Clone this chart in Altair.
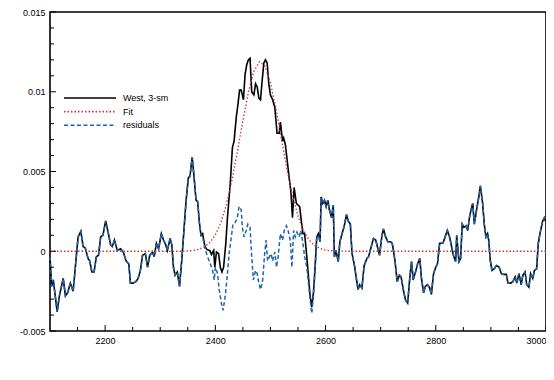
import altair as alt
import pandas as pd

# ---- data (values in units of 1e-3) ----
west_x = [2100, 2103, 2106, 2113, 2117, 2124, 2128, 2132, 2137, 2142, 2147, 2151, 2156, 2160, 2164, 2169, 2172, 2176, 2180, 2184,
          2188, 2192, 2196, 2201, 2206, 2210, 2213, 2217, 2222, 2228, 2233, 2238, 2243, 2246, 2251, 2256, 2260, 2264, 2268, 2273,
          2277, 2281, 2286, 2289, 2293, 2297, 2302, 2306, 2310, 2313, 2318, 2321, 2324, 2327, 2331, 2335, 2339, 2343, 2347, 2351,
          2354, 2358, 2361, 2365, 2368, 2371, 2374, 2377, 2381, 2385, 2390, 2393, 2397, 2399, 2402, 2406, 2409, 2412, 2415, 2419,
          2422, 2427, 2431, 2434, 2438, 2441, 2444, 2447, 2451, 2454, 2457, 2460, 2463, 2466, 2470, 2473, 2476, 2479, 2482, 2485,
          2488, 2491, 2494, 2497, 2500, 2504, 2508, 2512, 2516, 2518, 2522, 2524, 2527, 2531, 2534, 2537, 2540, 2543, 2547, 2550,
          2553, 2556, 2559, 2562, 2566, 2569, 2572, 2575, 2578, 2581, 2584, 2587, 2590, 2592, 2595, 2598, 2601, 2604, 2607, 2611,
          2614, 2616, 2619, 2623, 2626, 2630, 2634, 2638, 2641, 2645, 2648, 2652, 2655, 2659, 2662, 2666, 2670, 2675, 2678, 2683,
          2687, 2691, 2694, 2698, 2702, 2705, 2709, 2713, 2718, 2721, 2726, 2730, 2734, 2737, 2741, 2745, 2749, 2753, 2756, 2759,
          2764, 2767, 2771, 2774, 2778, 2781, 2785, 2789, 2792, 2796, 2800, 2803, 2807, 2810, 2813, 2816, 2821, 2825, 2828, 2832,
          2836, 2838, 2842, 2845, 2848, 2851, 2855, 2858, 2861, 2864, 2867, 2870, 2874, 2878, 2881, 2885, 2888, 2891, 2894, 2896,
          2899, 2902, 2906, 2910, 2915, 2919, 2923, 2928, 2931, 2936, 2940, 2944, 2947, 2951, 2955, 2958, 2962, 2965, 2969, 2972,
          2976, 2979, 2983, 2986, 2989, 2994, 2997, 3000]
west_y = [-0.35, -2.2, -1.8, -3.8, -2.8, -1.7, -2.8, -2.6, -2.0, -2.5, -0.6, 0.9, 1.25, 0.3, 0.2, -0.45, -0.6, -1.3, -1.3, -0.35,
          -0.25, 0.9, 1.0, 1.9, 1.1, 0.4, 0.3, 0.7, 0.05, 0.15, -0.05, -0.6, -0.8, -2.0, -2.0, -1.9, -1.7, -1.2, -0.25, -0.15,
          -1.0, -0.25, -0.05, -0.35, 0.5, 0.15, 1.1, 0.7, 0.4, 0.05, 0.8, 0.4, -1.0, -1.5, -1.3, -2.2, -0.6, 1.3, 3.2, 4.6,
          4.7, 5.9, 4.8, 3.2, 3.1, 1.8, 1.0, 1.1, 0.3, 0.1, 0.05, -0.2, 0.05, -1.0, -0.05, -0.15, -1.0, -1.3, -1.0, 0.5,
          2.1, 4.2, 6.5, 6.9, 8.4, 9.2, 10.1, 10.1, 9.5, 11.1, 11.7, 12.0, 12.1, 10.0, 9.8, 10.5, 10.3, 9.6, 9.5, 10.7,
          11.8, 12.0, 11.8, 10.5, 9.8, 9.5, 9.0, 7.4, 7.4, 8.1, 6.9, 7.1, 6.7, 5.5, 4.6, 3.8, 2.1, 4.0, 3.0, 2.9,
          2.8, 1.9, 1.1, 1.1, -0.35, -1.6, -2.8, -3.5, -2.6, -1.0, 0.9, 1.1, 0.6, 3.4, 3.0, 3.2, 2.8, 3.2, 2.6, 2.1,
          2.9, -0.35, 0.05, -0.65, 0.6, 1.1, 1.6, 2.3, 1.9, 1.7, -0.15, -0.8, -1.5, -2.4, -2.1, -2.3, -0.9, -0.45, -0.35, 0.3,
          0.8, 0.7, 0.3, -0.25, 0.9, 1.4, 0.9, 0.6, 0.6, 0.5, -0.6, -1.9, -1.5, -1.6, -2.4, -3.05, -3.25, -1.6, -0.65, -1.8,
          -1.2, -0.8, -0.45, -1.7, -2.6, -2.2, -2.1, -2.3, -2.7, -1.4, -1.0, -0.8, 0.5, 0.5, 0.5, 0.8, 1.3, 0.9, 0.4, -0.25,
          -0.65, 1.0, -0.65, -0.45, 1.7, 1.5, 1.6, 1.3, 2.1, 2.6, 3.0, 1.7, 2.6, 3.4, 4.1, 3.0, 1.7, 0.9, 1.1, 0.7,
          -0.6, -1.2, -1.1, -0.9, -1.0, -1.4, -1.45, -1.45, -2.0, -2.0, -1.9, -1.6, -2.0, -1.4, -2.1, -1.5, -1.3, -2.1, -2.25, -1.4,
          -1.7, -1.2, -1.1, 0.5, 1.1, 1.9, 2.1, 1.8]

# residuals where they differ from the data (peak region)
res_x = [2377, 2382, 2386, 2391, 2395, 2398, 2400, 2404, 2407, 2411, 2414, 2418, 2422, 2425, 2429, 2432, 2436, 2440, 2443, 2447,
         2449, 2452, 2456, 2459, 2463, 2466, 2469, 2473, 2476, 2479, 2482, 2486, 2489, 2492, 2495, 2498, 2501, 2504, 2508, 2511,
         2514, 2518, 2522, 2525, 2529, 2532, 2536, 2539, 2542, 2545, 2548, 2552, 2555, 2559, 2562, 2566, 2569, 2572, 2575, 2578,
         2581, 2584, 2587]
res_y = [0.9, 0.05, -0.35, -0.8, -1.2, -1.8, -1.0, -1.4, -2.4, -3.25, -3.7, -2.8, -1.4, -0.15, 0.9, 1.7, 1.8, 2.1, 2.8, 2.6,
         1.5, 0.9, 1.3, 1.7, 1.5, -0.35, -1.8, -1.2, -1.4, -2.0, -2.4, -1.8, -0.35, 0.7, -0.6, -0.35, -0.15, -0.6, -0.05, -1.0,
         -0.35, 1.1, 0.7, 1.3, 1.6, 1.3, 0.7, -1.0, 1.3, 0.9, 1.2, 0.9, 1.3, 0.5, -0.35, -1.0, -2.0, -3.05, -3.9, -2.8,
         -1.2, 0.8, 1.0]

fit_x = [2100, 2340, 2350, 2360, 2370, 2380, 2390, 2400, 2410, 2420, 2430, 2440, 2450, 2460, 2470, 2480, 2490, 2500, 2510, 2520,
         2530, 2540, 2550, 2560, 2570, 2580, 2590, 2600, 2610, 2620, 2640, 3000]
fit_y = [0.0, 0.0, 0.02, 0.05, 0.12, 0.27, 0.54, 1.02, 1.79, 2.92, 4.43, 6.25, 8.19, 9.97, 11.29, 11.88, 11.62, 10.57, 8.94, 7.02,
         5.13, 3.48, 2.2, 1.29, 0.7, 0.36, 0.17, 0.07, 0.03, 0.01, 0.0, 0.0]

series = ["West, 3-sm", "Fit", "residuals"]
colors = ["#000000", "#c43a31", "#1f64ad"]
dashes = [[1, 0], [1.5, 2], [4, 2.5]]

x_major = [2200, 2400, 2600, 2800, 3000]
x_minor = [2150, 2250, 2300, 2350, 2450, 2500, 2550, 2650, 2700, 2750, 2850, 2900, 2950]
y_major = [-0.005, 0.0, 0.005, 0.01, 0.015]
y_minor = [-0.004, -0.003, -0.002, -0.001, 0.001, 0.002, 0.003, 0.004, 0.006, 0.007, 0.008, 0.009,
           0.011, 0.012, 0.013, 0.014]

# ---- build table ----
rows = []
for i, (x, y) in enumerate(zip(west_x, west_y)):
    rows.append({"x": x, "y": y * 1e-3, "s": series[0], "o": i})
for i, (x, y) in enumerate(zip(fit_x, fit_y)):
    rows.append({"x": x, "y": y * 1e-3, "s": series[1], "o": i})
resid = [(x, y) for x, y in zip(west_x, west_y) if x < 2377]
resid += list(zip(res_x, res_y))
resid += [(x, y) for x, y in zip(west_x, west_y) if x > 2587]
for i, (x, y) in enumerate(resid):
    rows.append({"x": x, "y": y * 1e-3, "s": series[2], "o": i})
df = pd.DataFrame(rows)

W, H = 496, 319
FONT = "Liberation Sans"

xscale = alt.Scale(domain=[2100, 3000], nice=False, zero=False)
yscale = alt.Scale(domain=[-0.005, 0.015], nice=False, zero=False)

legend = alt.Legend(orient="none", legendX=34, legendY=80, title=None,
                    symbolType="M-5,0H5", symbolSize=108, symbolStrokeWidth=1.6,
                    labelFontSize=9, labelFont=FONT, labelColor="#000",
                    rowPadding=2.6, labelOffset=27, padding=0)

color = alt.Color("s:N", scale=alt.Scale(domain=series, range=colors), legend=legend)
dash = alt.StrokeDash("s:N", scale=alt.Scale(domain=series, range=dashes), legend=legend)

xaxis = alt.Axis(values=x_major, format="d", ticks=False, domain=False, grid=False,
                 labelFontSize=9, labelFont=FONT, labelColor="#000", labelPadding=5, title=None)
yaxis = alt.Axis(values=y_major, ticks=False, domain=False, grid=False,
                 labelExpr="datum.value < 0 ? '-' + format(-datum.value, '~g') : format(datum.value, '~g')",
                 labelFontSize=9, labelFont=FONT, labelColor="#000", labelPadding=5, title=None)

base = alt.Chart(df)
layers = []
widths = [1.6, 1.3, 1.5]
for k, s in enumerate(series):
    layers.append(
        base.transform_filter(alt.datum.s == s).mark_line(strokeWidth=widths[k]).encode(
            x=alt.X("x:Q", scale=xscale, axis=xaxis),
            y=alt.Y("y:Q", scale=yscale, axis=yaxis),
            color=color,
            strokeDash=dash,
            order="o:Q",
        )
    )

ymaj = alt.Chart(pd.DataFrame({"v": y_major})).mark_rule(color="#000", strokeWidth=1).encode(
    y=alt.Y("v:Q", scale=yscale, axis=yaxis), x=alt.value(0), x2=alt.value(6))
ymin = alt.Chart(pd.DataFrame({"v": y_minor})).mark_rule(color="#000", strokeWidth=1).encode(
    y=alt.Y("v:Q", scale=yscale, axis=yaxis), x=alt.value(0), x2=alt.value(4))
xmaj = alt.Chart(pd.DataFrame({"v": x_major})).mark_rule(color="#000", strokeWidth=1).encode(
    x=alt.X("v:Q", scale=xscale, axis=xaxis), y=alt.value(H), y2=alt.value(H - 6))
xmin = alt.Chart(pd.DataFrame({"v": x_minor})).mark_rule(color="#000", strokeWidth=1).encode(
    x=alt.X("v:Q", scale=xscale, axis=xaxis), y=alt.value(H), y2=alt.value(H - 4))

chart = alt.layer(*layers, ymaj, ymin, xmaj, xmin).properties(
    width=W, height=H,
    autosize=alt.AutoSizeParams(type="none"),
    padding={"left": 42, "top": 4, "right": 0, "bottom": 36},
    background="white",
).configure_view(stroke="#000", strokeWidth=1.6)

chart.save("out.html", embed_options={"renderer": "svg", "actions": False})
